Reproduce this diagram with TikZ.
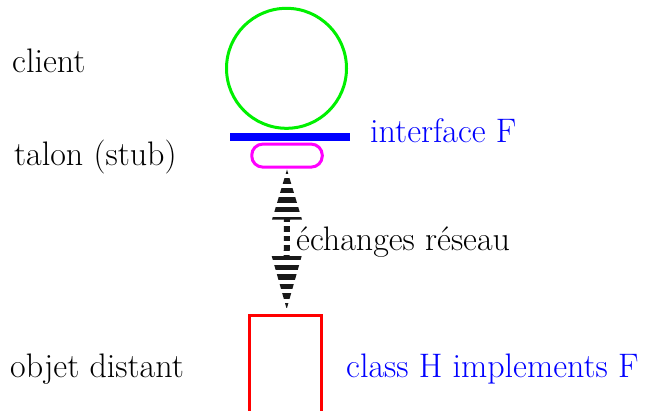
\documentclass[tikz,border=0pt]{standalone}
\usetikzlibrary{calc}
\definecolor{pgreen}{RGB}{0,240,0}
\definecolor{pblue}{RGB}{0,0,255}
\definecolor{pmag}{RGB}{255,0,255}
\definecolor{pred}{RGB}{255,0,0}
\begin{document}
\begin{tikzpicture}[x=1pt,y=-1pt,
  lbl/.style={anchor=base west,inner sep=0pt,font=\fontsize{34}{40}\selectfont},
  shape line/.style={line width=3pt}]
\useasboundingbox (0,0) rectangle (650,410);
% shapes
\node[circle,draw=pgreen,shape line,minimum size=120pt,inner sep=0pt] (cl) at (286.5,68.3) {};
\node[rectangle,fill=pblue,minimum width=120pt,minimum height=8pt,inner sep=0pt] (iface) at (290,137) {};
\node[rectangle,draw=pmag,shape line,rounded corners=11pt,minimum width=70.5pt,minimum height=23pt,inner sep=0pt] (stub) at (287,155.6) {};
\node[rectangle,draw=pred,shape line,minimum width=71.4pt,minimum height=110pt,inner sep=0pt] (obj) at (285.5,370.5) {};
% striped double arrow
\coordinate (up) at ($(stub.south)+(0,1)$);
\coordinate (dn) at ($(obj.north)+(1.2,-5)$);
\begin{scope}
\clip (up) -- ($(up)+(15,50)$) -- ($(up)+(3,50)$) -- ($(dn)+(3,-53)$) -- ($(dn)+(15,-53)$) -- (dn)
  -- ($(dn)+(-15,-53)$) -- ($(dn)+(-3,-53)$) -- ($(up)+(-3,50)$) -- ($(up)+(-15,50)$) -- cycle;
\foreach \k in {0,...,15}
  \fill[black!90] ($(up)+(-20,\k*9.6-1)$) rectangle ($(up)+(20,\k*9.6+4.4)$);
\end{scope}
% labels
\node[lbl] (tclient) at (12,72) {client};
\node[lbl] (tstub) at (14,165) {talon (stub)};
\node[lbl] (tobj) at (10,377) {objet distant};
\node[lbl,text=pblue] (tiface) at (370,142) {interface F};
\node[lbl] (tnet) at (296,250) {échanges réseau};
\node[lbl,text=pblue] (tclass) at (346,377) {class H implements F};
\end{tikzpicture}
\end{document}
